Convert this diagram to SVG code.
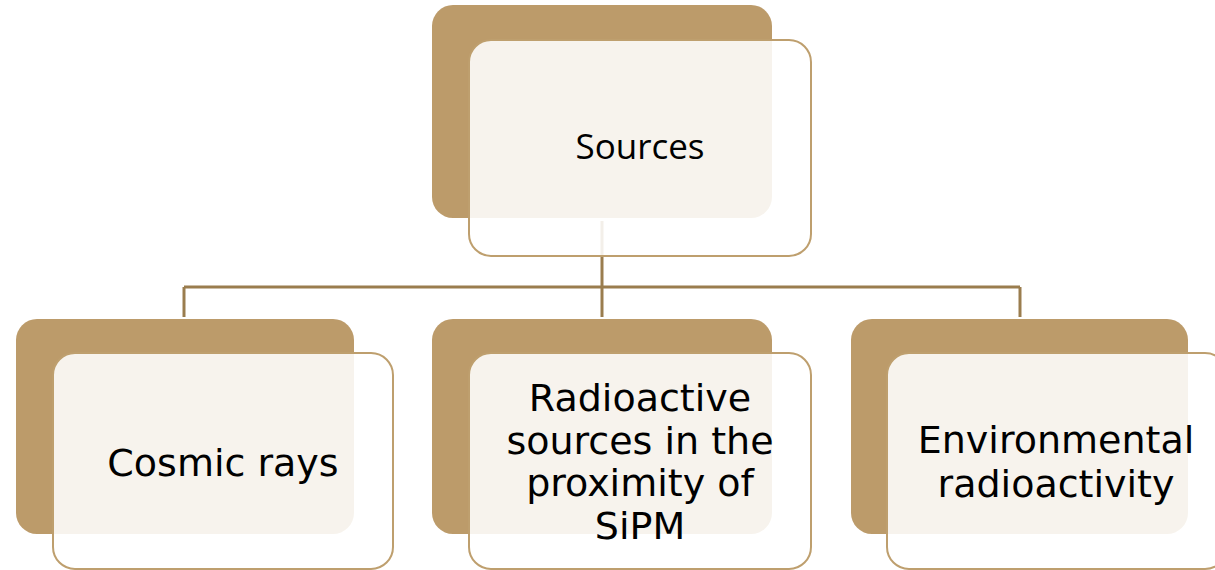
<svg xmlns="http://www.w3.org/2000/svg" width="1215" height="570" viewBox="0 0 1215 570">
  <style>
    .back { fill: #BC9B6A; }
    .front { fill: #FFFFFF; fill-opacity: 0.88; stroke: #BE9F6E; stroke-width: 2; }
    .link { fill: none; stroke: #9A7D4E; stroke-width: 3; }
    .head { font-family: "Open Sans", "Noto Sans", "Liberation Sans", sans-serif; font-size: 35px; fill: #000; text-anchor: middle; }
    .label { font-family: "DejaVu Sans", "Liberation Sans", sans-serif; font-size: 38px; fill: #000; text-anchor: middle; }
  </style>
  <rect width="1215" height="570" fill="#FFFFFF"/>

  <!-- tree connectors -->
  <g id="connectors">
    <path class="link" d="M602 221 V287"/>
    <path class="link" d="M184 287 H1020"/>
    <path class="link" d="M184 287 V317"/>
    <path class="link" d="M602 287 V317"/>
    <path class="link" d="M1020 287 V317"/>
  </g>

  <!-- root -->
  <g id="node-sources">
    <rect class="back" x="432" y="5" width="340" height="213" rx="21"/>
    <rect class="front" x="469" y="40" width="342" height="216" rx="22"/>
    <text class="head" x="640" y="159">Sources</text>
  </g>

  <!-- children -->
  <g id="node-cosmic">
    <rect class="back" x="16" y="319" width="338" height="215" rx="21"/>
    <rect class="front" x="53" y="353" width="340" height="216" rx="22"/>
    <text class="label" x="223" y="476">Cosmic rays</text>
  </g>

  <g id="node-radioactive">
    <rect class="back" x="432" y="319" width="340" height="215" rx="21"/>
    <rect class="front" x="469" y="353" width="342" height="216" rx="22"/>
    <text class="label" x="640" y="411">Radioactive</text>
    <text class="label" x="640" y="454">sources in the</text>
    <text class="label" x="640" y="496">proximity of</text>
    <text class="label" x="640" y="539">SiPM</text>
  </g>

  <g id="node-environmental">
    <rect class="back" x="851" y="319" width="337" height="215" rx="21"/>
    <rect class="front" x="887" y="353" width="340" height="216" rx="22"/>
    <text class="label" x="1056" y="453">Environmental</text>
    <text class="label" x="1056" y="497">radioactivity</text>
  </g>
</svg>
